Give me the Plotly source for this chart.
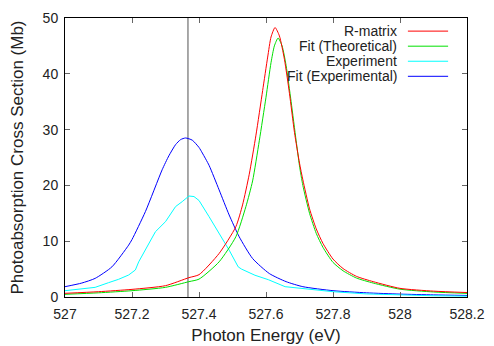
import plotly.graph_objects as go

# R-matrix (red)
rm_x = [527.00, 527.10, 527.20, 527.30, 527.37, 527.40, 527.46, 527.51, 527.53, 527.55,
        527.57, 527.59, 527.605, 527.615, 527.627, 527.64, 527.655, 527.67, 527.685, 527.70,
        527.71, 527.73, 527.75, 527.77, 527.80, 527.83, 527.87, 527.92, 528.00, 528.10, 528.20]
rm_y = [0.66, 0.95, 1.37, 2.03, 3.47, 4.0, 7.8, 12.6, 16.5, 22.0,
        29.0, 37.0, 43.0, 46.6, 48.3, 46.8, 42.6, 36.5, 29.5, 24.0,
        21.0, 15.8, 12.2, 9.6, 6.8, 5.1, 3.7, 2.75, 1.55, 1.05, 0.8]

# Fit (Theoretical) (green)
ft_x = [527.00, 527.10, 527.20, 527.30, 527.37, 527.40, 527.46, 527.51, 527.54, 527.56,
        527.58, 527.60, 527.615, 527.625, 527.636, 527.648, 527.66, 527.675, 527.69, 527.70,
        527.71, 527.73, 527.75, 527.77, 527.80, 527.83, 527.87, 527.92, 528.00, 528.10, 528.20]
ft_y = [0.48, 0.75, 1.13, 1.73, 2.75, 3.2, 6.3, 10.8, 16.2, 20.8,
        28.0, 35.8, 42.0, 45.0, 46.4, 45.0, 41.5, 35.0, 28.0, 23.5,
        20.0, 15.0, 11.4, 8.9, 6.2, 4.7, 3.4, 2.5, 1.4, 0.9, 0.65]

# Experiment (cyan)
ex_x = [527.00, 527.05, 527.09, 527.13, 527.16, 527.19, 527.21, 527.22, 527.24, 527.27,
        527.30, 527.33, 527.35, 527.37, 527.385, 527.40, 527.43, 527.46, 527.49, 527.517,
        527.527, 527.567, 527.607, 527.657, 527.706, 527.80, 527.90, 528.00, 528.10, 528.20]
ex_y = [1.13, 1.4, 1.73, 2.57, 3.17, 3.94, 4.84, 6.3, 8.4, 11.7,
        13.5, 16.2, 17.1, 18.1, 18.0, 17.3, 14.4, 11.4, 8.4, 5.4,
        5.0, 3.9, 3.1, 1.85, 1.5, 0.95, 0.55, 0.35, 0.22, 0.15]

# Fit (Experimental) (blue)
fe_x = [527.00, 527.05, 527.09, 527.14, 527.19, 527.20, 527.24, 527.29, 527.31, 527.33,
        527.345, 527.36, 527.38, 527.40, 527.41, 527.43, 527.46, 527.49, 527.52, 527.56,
        527.61, 527.66, 527.71, 527.80, 527.90, 528.00, 528.10, 528.20]
fe_y = [1.85, 2.5, 3.34, 5.4, 9.3, 10.3, 15.3, 22.8, 25.3, 27.3,
        28.2, 28.5, 28.1, 26.8, 25.8, 23.6, 19.2, 14.7, 10.8, 6.9,
        4.2, 2.75, 1.85, 1.13, 0.75, 0.52, 0.38, 0.28]

marker_x = 527.367
names = ["R-matrix", "Fit (Theoretical)", "Experiment", "Fit (Experimental)"]
colors = ["#ff0000", "#00e000", "#00ffff", "#0000ff"]

fig = go.Figure()
fig.add_trace(go.Scatter(x=[marker_x, marker_x], y=[0, 50], mode="lines",
                         line=dict(color="#8c8c8c", width=1.5), showlegend=False))
fig.add_trace(go.Scatter(x=fe_x, y=fe_y, mode="lines", line=dict(color=colors[3], width=1, shape="spline", smoothing=0.6)))
fig.add_trace(go.Scatter(x=ex_x, y=ex_y, mode="lines", line=dict(color=colors[2], width=1)))
fig.add_trace(go.Scatter(x=ft_x, y=ft_y, mode="lines", line=dict(color=colors[1], width=1, shape="spline", smoothing=0.6)))
fig.add_trace(go.Scatter(x=rm_x, y=rm_y, mode="lines", line=dict(color=colors[0], width=1, shape="spline", smoothing=0.6)))

# gnuplot style key: text right aligned, sample line after it
rows = [0.953, 0.899, 0.845, 0.791]
shapes = []
annotations = []
for name, col, yy in zip(names, colors, rows):
    annotations.append(dict(x=0.83, y=yy, xref="paper", yref="paper", text=name, showarrow=False,
                            xanchor="right", yanchor="middle", font=dict(size=14, color="#222")))
    shapes.append(dict(type="line", xref="paper", yref="paper", x0=0.853, x1=0.953, y0=yy, y1=yy,
                       line=dict(color=col, width=1)))

# page body has an 8px margin, so the figure is trimmed by that amount
fig.update_layout(
    width=486, height=338,
    margin=dict(l=57, r=27, t=10, b=49),
    plot_bgcolor="white", paper_bgcolor="white",
    font=dict(family="Liberation Sans, Arial, sans-serif", size=14, color="#222"),
    showlegend=False,
    shapes=shapes, annotations=annotations,
    xaxis=dict(title=dict(text="Photon Energy (eV)", standoff=8), range=[527, 528.2], dtick=0.2,
               tick0=527, showgrid=False, zeroline=False, showline=True, linecolor="black",
               mirror="ticks", ticks="inside", ticklen=5, tickcolor="#666", automargin=False,
               ticklabelstandoff=4),
    yaxis=dict(title=dict(text="Photoabsorption Cross Section (Mb)", standoff=29), range=[0, 50],
               dtick=10, showgrid=False, zeroline=False, showline=True, linecolor="black",
               mirror="ticks", ticks="inside", ticklen=5, tickcolor="#666", automargin=False,
               ticklabelstandoff=3),
)

fig.write_html("out.html")
